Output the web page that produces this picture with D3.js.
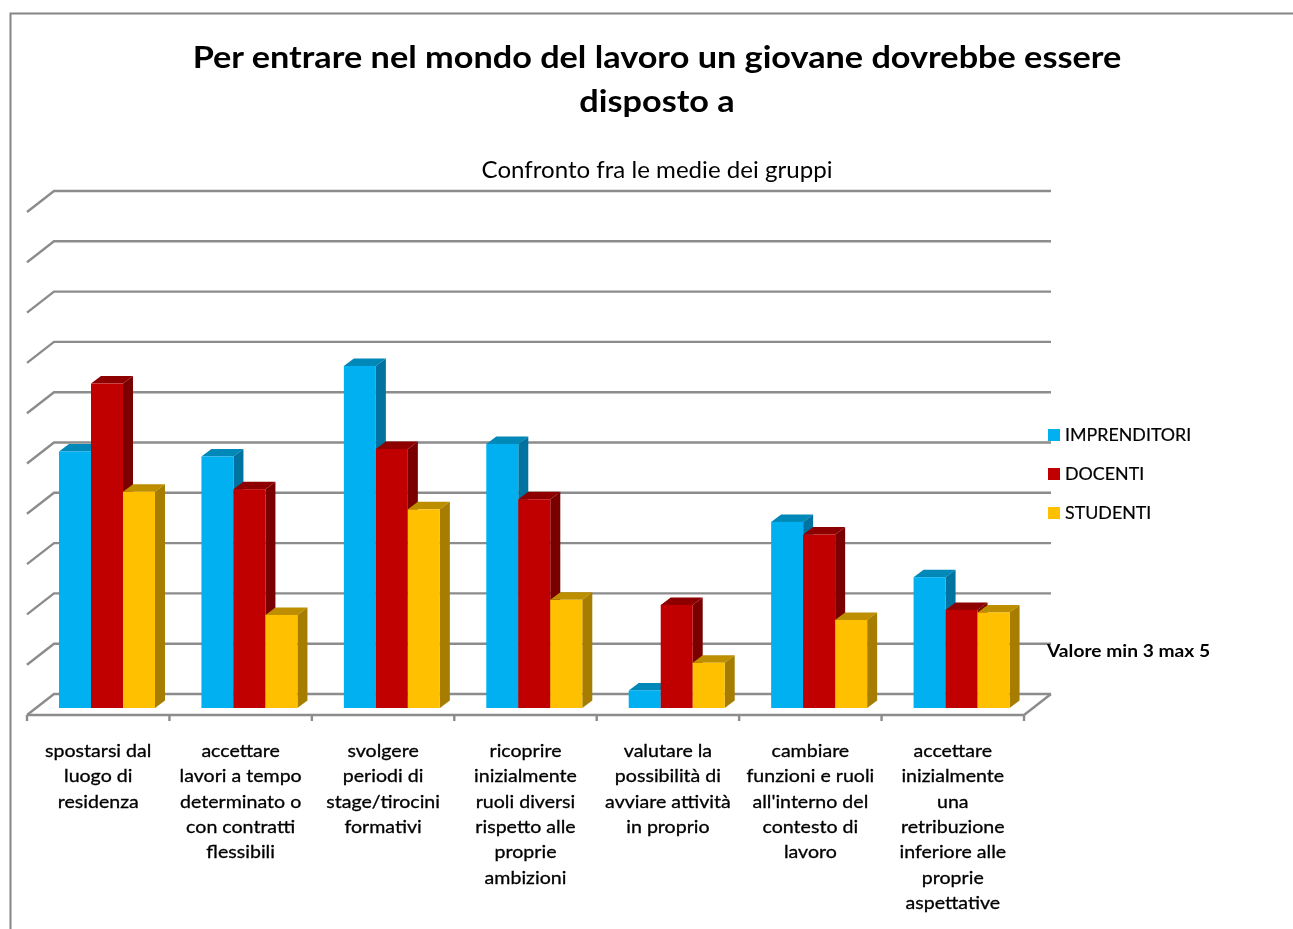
<!DOCTYPE html>
<html><head><meta charset="utf-8">
<script src="https://cdn.jsdelivr.net/npm/d3@7/dist/d3.min.js"></script>
<style>html,body{margin:0;padding:0;background:#fff;overflow:hidden}svg{display:block;filter:blur(0.4px)}text{font-family:Lato,"Open Sans",sans-serif;fill:#000}</style>
</head><body><svg id="c" width="1293" height="929"></svg>
<script>
const titleLines = ["Per entrare nel mondo del lavoro un giovane dovrebbe essere","disposto a"];
const subtitle = "Confronto fra le medie dei gruppi";
const note = "Valore min 3 max 5";
const categories = [
 ["spostarsi dal","luogo di","residenza"],
 ["accettare","lavori a tempo","determinato o","con contratti","flessibili"],
 ["svolgere","periodi di","stage/tirocini","formativi"],
 ["ricoprire","inizialmente","ruoli diversi","rispetto alle","proprie","ambizioni"],
 ["valutare la","possibilità di","avviare attività","in proprio"],
 ["cambiare","funzioni e ruoli","all'interno del","contesto di","lavoro"],
 ["accettare","inizialmente","una","retribuzione","inferiore alle","proprie","aspettative"]
];
const seriesNames = ["IMPRENDITORI","DOCENTI","STUDENTI"];
const imprenditori = [4.02,4.00,4.36,4.05,3.07,3.74,3.52];
const docenti = [4.29,3.87,4.03,3.83,3.41,3.69,3.39];
const studenti = [3.86,3.37,3.79,3.43,3.18,3.35,3.38];
const yTicks = [3,3.2,3.4,3.6,3.8,4,4.2,4.4,4.6,4.8,5];
const front = ["#00B0F0","#C00000","#FFC000"];
const top_ = ["#0088B8","#8E0000","#BC8E00"];
const side = ["#0073A0","#7A0000","#A67D00"];

const svg = d3.select("#c");
const values = [imprenditori,docenti,studenti];
const x = d3.scaleBand().domain(d3.range(categories.length)).range([27,1024]);
const xs = d3.scaleBand().domain(d3.range(3)).range([32,128]);
const y = d3.scaleLinear().domain([3,5]).range([715,212]);
const wallDx = 27, wallDy = 21, barFrontDy = 7, dDx = 10, dDy = 7.5;
const grid = "#8C8C8C";
const place = (px,py,sx)=>`translate(${px},${py}) scale(${sx},1)`;

// frame
svg.append("path").attr("d","M10.5,929V13.5H1293").attr("fill","none").attr("stroke","#868686").attr("stroke-width",2);

// gridlines
const g = svg.append("g").attr("fill","none").attr("stroke",grid).attr("stroke-width",2.4);
g.selectAll("path").data(yTicks).join("path")
 .attr("d",t=>`M${x.range()[0]},${y(t)}L${x.range()[0]+wallDx},${y(t)-wallDy}H${x.range()[1]+wallDx}`);
g.append("path").attr("d",`M${x.range()[0]},${y(3)}H${x.range()[1]}L${x.range()[1]+wallDx},${y(3)-wallDy}`);
const tickPos = d3.range(categories.length+1).map(i=>i<categories.length?x(i):x.range()[1]);
g.selectAll(".tick").data(tickPos).join("path").attr("class","tick").attr("d",p=>`M${p},${y(3)}v6`);

// bars
const bars = svg.append("g");
categories.forEach((c,i)=>{
  values.forEach((v,s)=>{
    const x0 = x(i)+xs(s), w = xs.bandwidth(), yt = y(v[i])-barFrontDy, yb = y(3)-barFrontDy;
    const b = bars.append("g");
    b.append("path").attr("fill",top_[s]).attr("d",`M${x0},${yt}l${dDx},${-dDy}h${w}l${-dDx},${dDy}z`);
    b.append("path").attr("fill",side[s]).attr("d",`M${x0+w},${yt}l${dDx},${-dDy}V${yb-dDy}l${-dDx},${dDy}z`);
    b.append("rect").attr("fill",front[s]).attr("x",x0).attr("y",yt).attr("width",w).attr("height",yb-yt);
  });
});

// category labels
categories.forEach((c,i)=>{
  svg.append("g").selectAll("text").data(c).join("text")
   .attr("transform",(d,k)=>place(x(i)+x.bandwidth()/2,757+k*25.3,1.12))
   .attr("text-anchor","middle").attr("font-size",17.5)
   .attr("stroke","#000").attr("stroke-width",0.3).text(d=>d);
});

// titles
svg.selectAll(".title").data(titleLines).join("text").attr("class","title")
 .attr("transform",(d,i)=>place(657,68+i*44,1.105)).attr("text-anchor","middle")
 .attr("font-size",31).attr("font-weight",700).text(d=>d);
svg.append("text").attr("transform",place(657,178,1.048)).attr("text-anchor","middle").attr("font-size",23).text(subtitle);

// legend
const legendY = d3.scalePoint().domain(seriesNames).range([435,513]);
const lg = svg.append("g");
lg.selectAll("rect").data(seriesNames).join("rect").attr("x",1048).attr("y",d=>legendY(d)-6).attr("width",12).attr("height",12).attr("fill",(d,i)=>front[i]);
lg.selectAll("text").data(seriesNames).join("text").attr("transform",d=>place(1065,legendY(d)+6,1.02)).attr("font-size",17.5).attr("stroke","#000").attr("stroke-width",0.2).text(d=>d);
svg.append("text").attr("transform",place(1047,657,1.13)).attr("font-size",17).attr("font-weight",700).text(note);
</script></body></html>
